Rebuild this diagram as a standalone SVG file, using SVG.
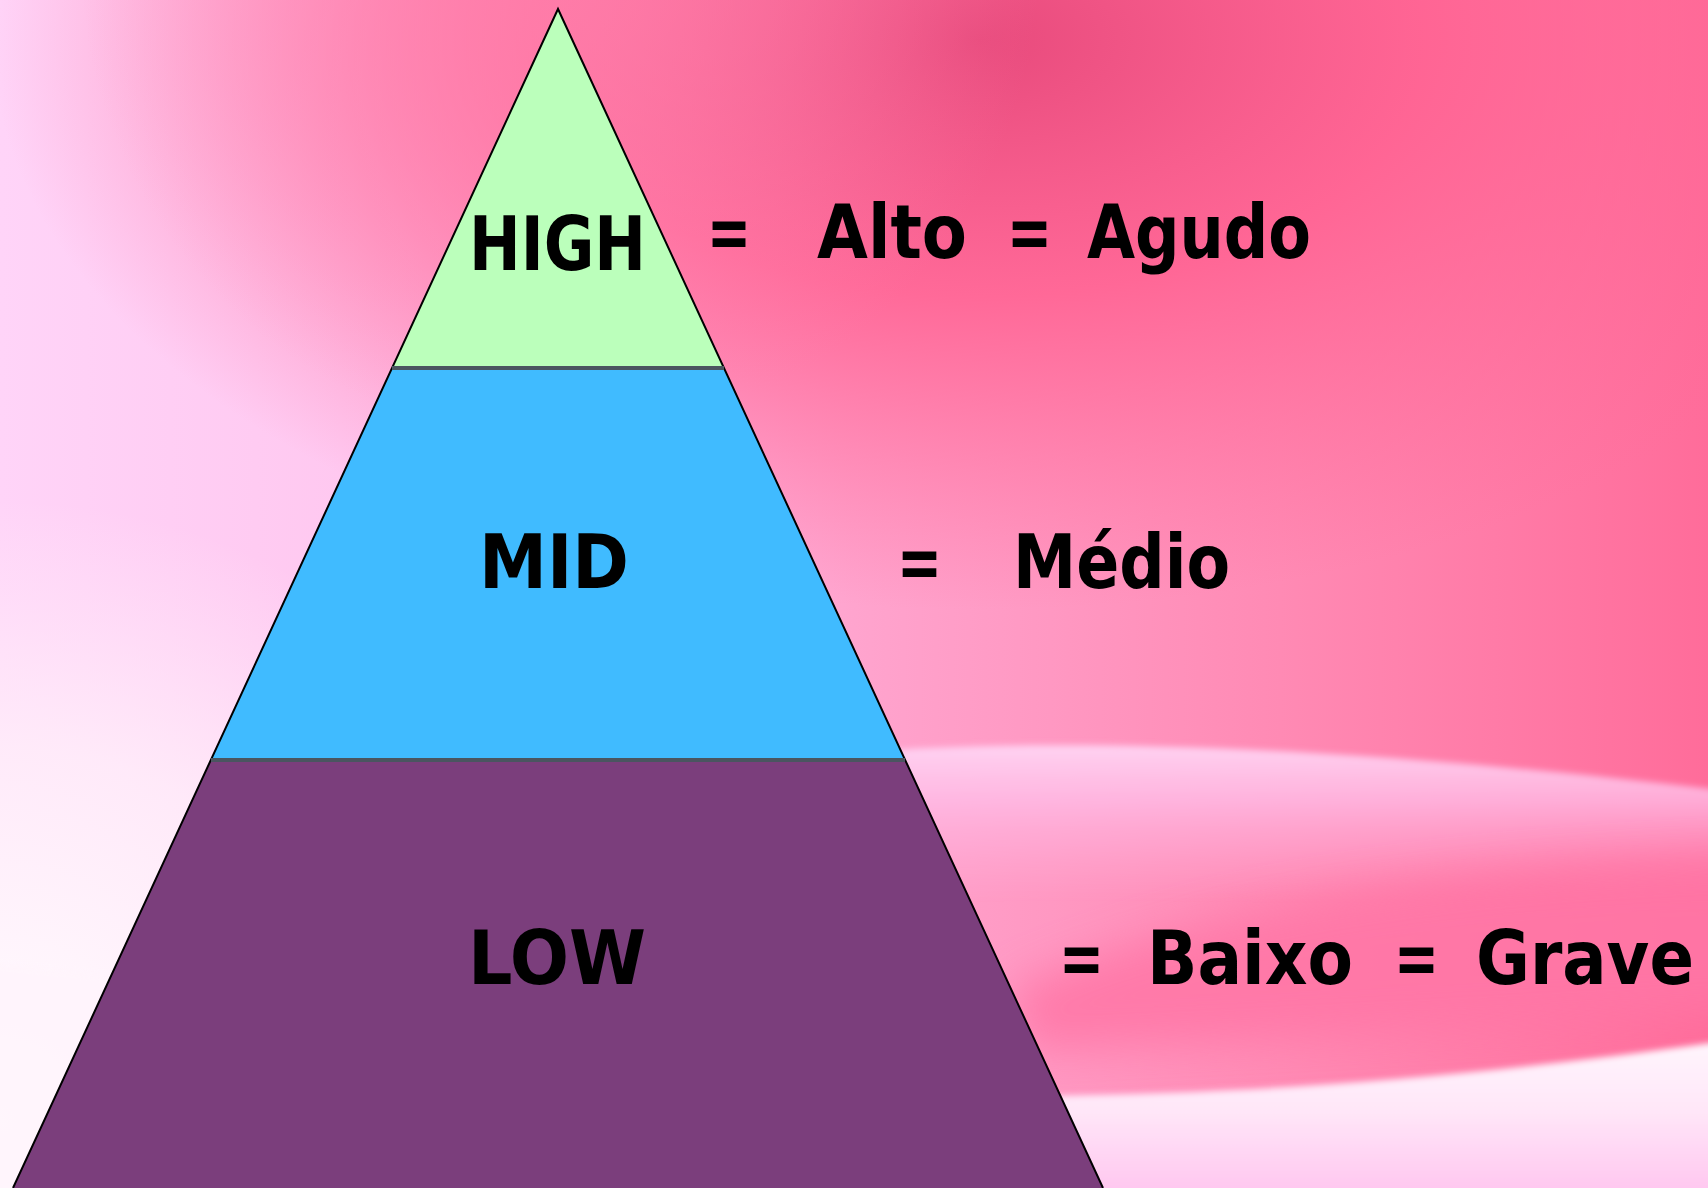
<svg xmlns="http://www.w3.org/2000/svg" width="1708" height="1188" viewBox="0 0 1708 1188">
  <defs>
    <linearGradient id="bgBase" x1="0" y1="0" x2="1708" y2="0" gradientUnits="userSpaceOnUse">
      <stop offset="0" stop-color="#FFD4F8"/>
      <stop offset="0.3" stop-color="#FFC2EC"/>
      <stop offset="0.5" stop-color="#FFA4CE"/>
      <stop offset="0.75" stop-color="#FF8AB4"/>
      <stop offset="1" stop-color="#FF6C9A"/>
    </linearGradient>
    <radialGradient id="topDark" cx="980" cy="40" r="760" gradientUnits="userSpaceOnUse" gradientTransform="translate(980 40) scale(1.3 0.75) translate(-980 -40)">
      <stop offset="0" stop-color="#E84A7C" stop-opacity="1"/>
      <stop offset="0.45" stop-color="#FF6090" stop-opacity="0.85"/>
      <stop offset="1" stop-color="#FF6A98" stop-opacity="0"/>
    </radialGradient>
    <radialGradient id="topLeftPink" cx="560" cy="-40" r="480" gradientUnits="userSpaceOnUse">
      <stop offset="0" stop-color="#FF80AC" stop-opacity="0.8"/>
      <stop offset="1" stop-color="#FF88B4" stop-opacity="0"/>
    </radialGradient>
    <radialGradient id="leftWhite" cx="0" cy="1120" r="620" gradientUnits="userSpaceOnUse">
      <stop offset="0" stop-color="#FFFFFF" stop-opacity="1"/>
      <stop offset="0.6" stop-color="#FFF0FA" stop-opacity="0.8"/>
      <stop offset="1" stop-color="#FFF0FA" stop-opacity="0"/>
    </radialGradient>
    <linearGradient id="paleBand" x1="0" y1="745" x2="0" y2="900" gradientUnits="userSpaceOnUse">
      <stop offset="0" stop-color="#FFD6F4" stop-opacity="0.95"/>
      <stop offset="0.35" stop-color="#FFC0EA" stop-opacity="0.75"/>
      <stop offset="1" stop-color="#FFB0DA" stop-opacity="0"/>
    </linearGradient>
    <linearGradient id="lowBand" x1="0" y1="1050" x2="0" y2="1188" gradientUnits="userSpaceOnUse">
      <stop offset="0" stop-color="#FFF4FC"/>
      <stop offset="0.45" stop-color="#FFE6F8"/>
      <stop offset="1" stop-color="#FFC8F0"/>
    </linearGradient>
    <filter id="blur30" x="-20%" y="-50%" width="140%" height="200%">
      <feGaussianBlur stdDeviation="22"/>
    </filter>
    <filter id="blur4" x="-10%" y="-50%" width="120%" height="200%">
      <feGaussianBlur stdDeviation="3"/>
    </filter>
  </defs>
  <style>
    .lbl { font-family: "DejaVu Sans Condensed", "DejaVu Sans", sans-serif; font-weight: bold; font-size: 74px; fill: #000000; }
    .edge { fill: none; stroke: #000000; stroke-width: 2; }
    .sep { stroke: #4A5560; stroke-width: 4; }
  </style>

  <g id="background">
    <rect x="0" y="0" width="1708" height="1188" fill="url(#bgBase)"/>
    <rect x="0" y="0" width="1708" height="1188" fill="url(#topDark)"/>
    <rect x="0" y="0" width="1708" height="600" fill="url(#topLeftPink)"/>
    <rect x="0" y="0" width="1708" height="1188" fill="url(#leftWhite)"/>
    <path d="M 860 752 C 1050 738 1350 742 1800 800 L 1800 920 C 1400 900 1150 890 860 900 Z" fill="url(#paleBand)" filter="url(#blur4)"/>
    <path d="M 1010 990 C 1150 930 1350 870 1800 860 L 1800 1010 C 1450 1030 1250 1040 1030 1050 Z" fill="#FF76A6" filter="url(#blur30)" opacity="0.85"/>
    <path d="M 1040 1096 C 1300 1092 1500 1075 1800 1030 L 1800 1260 L 1040 1260 Z" fill="url(#lowBand)" filter="url(#blur4)"/>
    <path d="M -40 960 C 150 980 250 990 340 1000 L 340 1230 L -40 1230 Z" fill="#FFF4FC" filter="url(#blur4)" opacity="0.8"/>
  </g>

  <g id="node-low">
    <polygon points="211,760 905,760 1103,1188 13,1188" fill="#7B3E7C"/>
    <text class="lbl" x="468" y="984" textLength="178" lengthAdjust="spacingAndGlyphs">LOW</text>
  </g>
  <g id="node-mid">
    <polygon points="392,368 724,368 905,760 211,760" fill="#40BBFF"/>
    <text class="lbl" x="479" y="588" textLength="150" lengthAdjust="spacingAndGlyphs">MID</text>
  </g>
  <g id="node-high">
    <polygon points="558,9 724,368 392,368" fill="#BBFFBB"/>
    <text class="lbl" x="469" y="270" textLength="177" lengthAdjust="spacingAndGlyphs">HIGH</text>
  </g>

  <g id="connectors">
    <polyline class="edge" points="13,1188 558,9 1103,1188"/>
    <line class="sep" x1="392" y1="368" x2="724" y2="368"/>
    <line class="sep" x1="211" y1="760" x2="905" y2="760"/>
  </g>

  <g id="label-high">
    <text class="lbl" x="707" y="258" textLength="44" lengthAdjust="spacingAndGlyphs">=</text>
    <text class="lbl" x="817" y="258" textLength="150" lengthAdjust="spacingAndGlyphs">Alto</text>
    <text class="lbl" x="1007" y="258" textLength="45" lengthAdjust="spacingAndGlyphs">=</text>
    <text class="lbl" x="1087" y="258" textLength="224" lengthAdjust="spacingAndGlyphs">Agudo</text>
  </g>
  <g id="label-mid">
    <text class="lbl" x="897" y="588" textLength="45" lengthAdjust="spacingAndGlyphs">=</text>
    <text class="lbl" x="1013" y="588" textLength="217" lengthAdjust="spacingAndGlyphs">Médio</text>
  </g>
  <g id="label-low">
    <text class="lbl" x="1059" y="984" textLength="45" lengthAdjust="spacingAndGlyphs">=</text>
    <text class="lbl" x="1147" y="984" textLength="206" lengthAdjust="spacingAndGlyphs">Baixo</text>
    <text class="lbl" x="1394" y="984" textLength="45" lengthAdjust="spacingAndGlyphs">=</text>
    <text class="lbl" x="1476" y="984" textLength="218" lengthAdjust="spacingAndGlyphs">Grave</text>
  </g>
</svg>
